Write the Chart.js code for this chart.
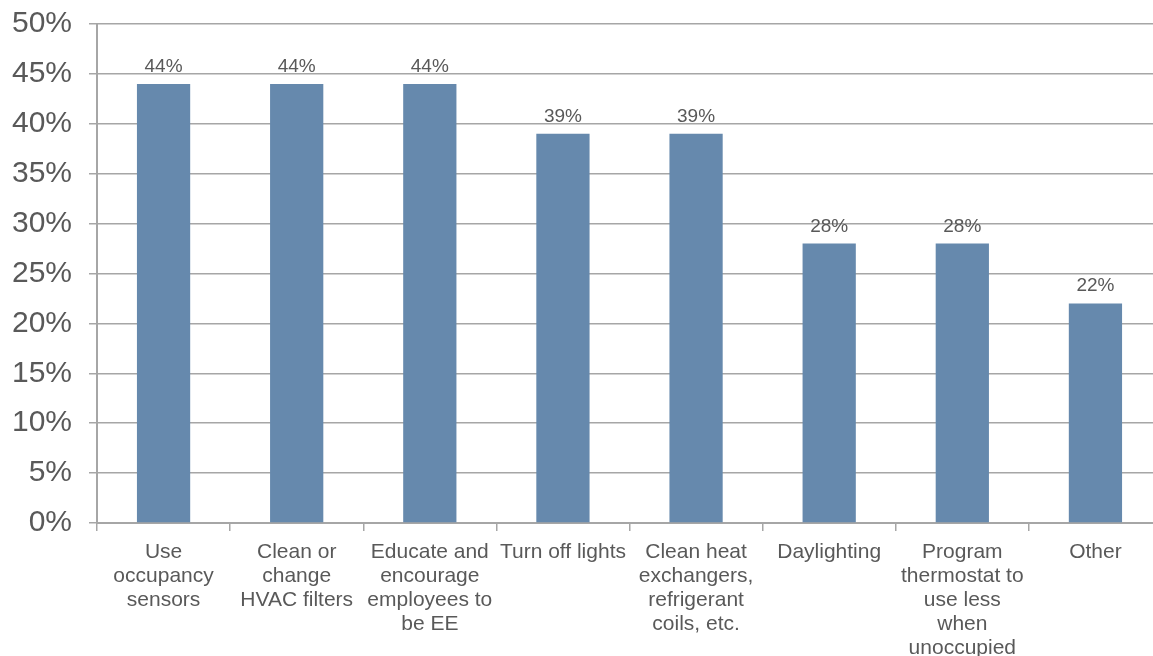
<!DOCTYPE html>
<html>
<head>
<meta charset="utf-8">
<script src="https://cdn.jsdelivr.net/npm/chart.js@4"></script>
<style>
  html, body { margin: 0; padding: 0; background: #fff; overflow: hidden; }
  #wrap { position: absolute; left: 0; top: 0; width: 1162px; height: 656px; }
</style>
</head>
<body>
<div id="wrap"><canvas id="chart" width="1162" height="656"></canvas></div>
<script>
const categories = [
  ["Use", "occupancy", "sensors"],
  ["Clean or", "change", "HVAC filters"],
  ["Educate and", "encourage", "employees to", "be EE"],
  ["Turn off lights"],
  ["Clean heat", "exchangers,", "refrigerant", "coils, etc."],
  ["Daylighting"],
  ["Program", "thermostat to", "use less", "when", "unoccupied"],
  ["Other"]
];
const shares = [44, 44, 44, 39, 39, 28, 28, 22];
const yMax = 50;
const yStep = 5;

const barColor = "#6689AD";
const textColor = "#595959";
const gridColor = "#A6A6A6";
const fontFamily = "'Liberation Sans', Arial, sans-serif";

// percentage written above each bar
const valueLabels = {
  id: "valueLabels",
  afterDatasetsDraw(chart) {
    const ctx = chart.ctx;
    const meta = chart.getDatasetMeta(0);
    ctx.save();
    ctx.font = "19px " + fontFamily;
    ctx.fillStyle = textColor;
    ctx.textAlign = "center";
    ctx.textBaseline = "alphabetic";
    meta.data.forEach((bar, i) => {
      ctx.fillText(shares[i] + "%", bar.x, bar.y - 12);
    });
    ctx.restore();
  }
};

new Chart(document.getElementById("chart"), {
  type: "bar",
  data: {
    labels: categories,
    datasets: [{
      data: shares,
      backgroundColor: barColor,
      borderWidth: 0,
      barPercentage: 0.4,
      categoryPercentage: 1
    }]
  },
  options: {
    responsive: false,
    animation: false,
    layout: { padding: { top: 24, right: 0, left: 0, bottom: 0 } },
    plugins: {
      legend: { display: false },
      tooltip: { enabled: false }
    },
    scales: {
      x: {
        offset: true,
        grid: {
          offset: true,
          drawOnChartArea: false,
          drawTicks: true,
          tickLength: 8,
          color: gridColor,
          lineWidth: 1.5
        },
        border: { color: gridColor, width: 2 },
        ticks: {
          color: textColor,
          font: { family: fontFamily, size: 21, lineHeight: 1.15 },
          padding: 9,
          maxRotation: 0,
          autoSkip: false
        },
        afterFit(scale) { scale.height = 133; }
      },
      y: {
        min: 0,
        max: yMax,
        grid: {
          color: gridColor,
          lineWidth: 1.5,
          tickLength: 8
        },
        border: { color: gridColor, width: 2 },
        ticks: {
          stepSize: yStep,
          color: textColor,
          font: { family: fontFamily, size: 30 },
          padding: 17,
          callback: (v) => v + "%"
        },
        afterFit(scale) {
          scale.width = 97;
          scale.paddingTop = 0;
          scale.paddingBottom = 0;
        }
      }
    }
  },
  plugins: [valueLabels]
});
</script>
</body>
</html>
